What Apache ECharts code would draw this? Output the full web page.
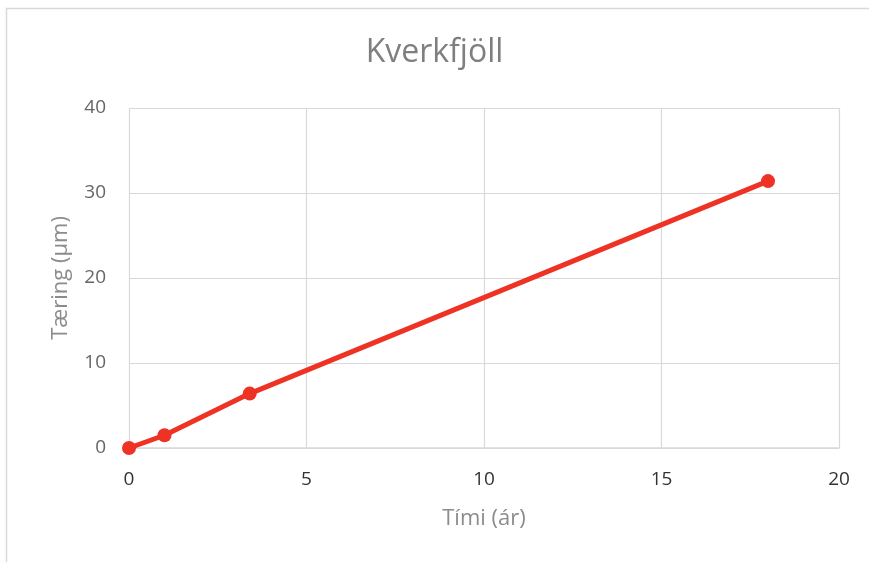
<!DOCTYPE html>
<html>
<head>
<meta charset="utf-8">
<script src="https://cdn.jsdelivr.net/npm/echarts@6/dist/echarts.min.js"></script>
<style>
  html, body { margin: 0; padding: 0; background: #fff; }
  #chart { width: 869px; height: 562px; }
</style>
</head>
<body>
<div id="chart"></div>
<script>
// Corrosion over time at Kverkfjöll
const years = [0, 1.0, 3.4, 18.0];
const corrosion = [0, 1.5, 6.4, 31.4];
const xTicks = [0, 5, 10, 15, 20];
const yTicks = [0, 10, 20, 30, 40];

const chart = echarts.init(document.getElementById('chart'), null, { renderer: 'canvas' });
const labelFont = '"Open Sans", "Liberation Sans", sans-serif';

chart.setOption({
  animation: false,
  backgroundColor: '#ffffff',
  graphic: [{
    type: 'rect',
    shape: { x: 6.5, y: 8.5, width: 880, height: 600 },
    style: { fill: 'none', stroke: '#d9d9d9', lineWidth: 1.5 },
    silent: true,
    z: -1
  }],
  title: {
    text: 'Kverkfjöll',
    left: 'center',
    top: 32,
    textStyle: {
      fontFamily: labelFont,
      fontWeight: 'normal',
      fontSize: 32,
      color: '#7f7f7f'
    }
  },
  grid: { left: 129, right: 30, top: 108, bottom: 114 },
  xAxis: {
    type: 'value',
    min: xTicks[0],
    max: xTicks[xTicks.length - 1],
    interval: 5,
    name: 'Tími (ár)',
    nameLocation: 'middle',
    nameGap: 60,
    nameTextStyle: { fontFamily: labelFont, fontSize: 22, color: '#8c8c8c' },
    axisLine: { show: true, lineStyle: { color: '#d9d9d9', width: 1.5 } },
    axisTick: { show: false },
    axisLabel: { fontFamily: labelFont, fontSize: 19, color: '#333333', margin: 22 },
    splitLine: { show: true, lineStyle: { color: '#d9d9d9', width: 1.2 } }
  },
  yAxis: {
    type: 'value',
    min: yTicks[0],
    max: yTicks[yTicks.length - 1],
    interval: 10,
    name: 'Tæring (µm)',
    nameLocation: 'middle',
    nameGap: 57,
    nameTextStyle: { fontFamily: labelFont, fontSize: 22, color: '#8c8c8c' },
    axisLine: { show: false },
    axisTick: { show: false },
    axisLabel: { fontFamily: labelFont, fontSize: 19, color: '#666666', margin: 23 },
    splitLine: { show: true, lineStyle: { color: '#d9d9d9', width: 1.2 } }
  },
  series: [{
    type: 'line',
    data: years.map((x, i) => [x, corrosion[i]]),
    symbol: 'circle',
    symbolSize: 14,
    lineStyle: { color: '#ee3224', width: 5 },
    itemStyle: { color: '#ee3224' },
    clip: false
  }]
});
</script>
</body>
</html>
